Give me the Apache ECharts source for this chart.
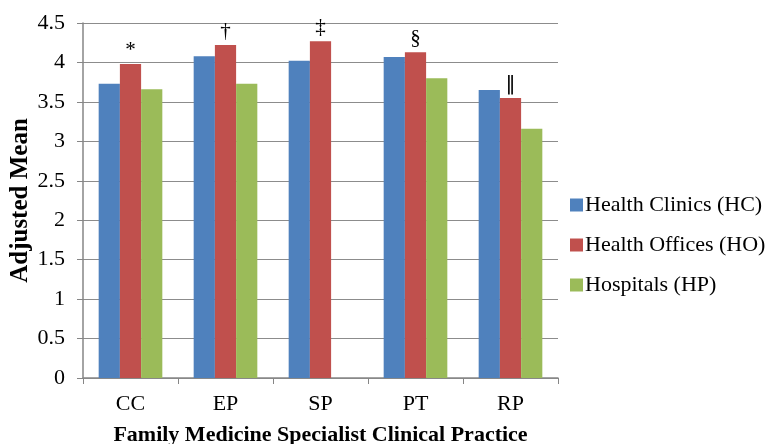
<!DOCTYPE html>
<html><head><meta charset="utf-8">
<script src="https://cdn.jsdelivr.net/npm/echarts@6/dist/echarts.min.js"></script>
<style>html,body{margin:0;padding:0;background:#fff}#c{width:769px;height:444px}</style>
</head><body><div id="c"></div>
<script>
var categories = ['CC', 'EP', 'SP', 'PT', 'RP'];
var seriesNames = ['Health Clinics (HC)', 'Health Offices (HO)', 'Hospitals (HP)'];
var hcValues = [3.73, 4.08, 4.02, 4.07, 3.65];
var hoValues = [3.98, 4.22, 4.27, 4.13, 3.55];
var hpValues = [3.66, 3.73, null, 3.80, 3.16];
var hoMarks = ['*', '\u2020', '\u2021', '\u00A7', '\u2016'];
var yTicks = [0, 0.5, 1, 1.5, 2, 2.5, 3, 3.5, 4, 4.5];

var font = 'Liberation Serif';
var chart = echarts.init(document.getElementById('c'));
chart.setOption({
  animation: false,
  color: ['#4F81BD', '#C0504D', '#9BBB59'],
  grid: {left: 83, right: 211, top: 23, bottom: 66, containLabel: false, outerBoundsMode: 'none'},
  legend: {
    orient: 'vertical', left: 565, top: 189,
    itemWidth: 13, itemHeight: 13, itemGap: 18,
    icon: 'rect',
    textStyle: {fontFamily: font, fontSize: 22, lineHeight: 22, color: '#000', padding: [0, 0, 0, -3]},
    data: seriesNames
  },
  xAxis: {
    type: 'category', data: categories,
    name: 'Family Medicine Specialist Clinical Practice',
    nameLocation: 'middle', nameGap: 46, nameMoveOverlap: false,
    nameTextStyle: {fontFamily: font, fontSize: 22, fontWeight: 'bold', color: '#000'},
    axisLine: {lineStyle: {color: '#868686', width: 1.5}},
    axisTick: {show: true, length: 6, lineStyle: {color: '#868686'}},
    axisLabel: {fontFamily: font, fontSize: 22, color: '#000', margin: 15}
  },
  yAxis: {
    type: 'value', min: yTicks[0], max: yTicks[yTicks.length - 1], interval: 0.5,
    name: 'Adjusted Mean', nameLocation: 'middle', nameGap: 50, nameMoveOverlap: false,
    nameTextStyle: {fontFamily: font, fontSize: 25, fontWeight: 'bold', color: '#000'},
    axisLine: {show: true, lineStyle: {color: '#868686', width: 1.5}},
    axisTick: {show: true, length: 6, lineStyle: {color: '#868686'}},
    axisLabel: {fontFamily: font, fontSize: 22, color: '#000', margin: 18},
    splitLine: {lineStyle: {color: '#8c8c8c', width: 1.2}}
  },
  series: [
    {name: seriesNames[0], type: 'bar', data: hcValues, barGap: '0%', barCategoryGap: '33%'},
    {name: seriesNames[1], type: 'bar', data: hoValues, barGap: '0%', barCategoryGap: '33%',
      label: {show: true, position: 'top', distance: 3, fontFamily: font, fontSize: 21, color: '#000',
        formatter: function (p) {
          var m = hoMarks[p.dataIndex];
          return m === '\u2016' ? '{bar|' + m + '}' : m;
        },
        rich: {bar: {fontFamily: 'DejaVu Sans', fontSize: 20, color: '#000'}}}},
    {name: seriesNames[2], type: 'bar', data: hpValues, barGap: '0%', barCategoryGap: '33%'}
  ]
});
</script></body></html>
